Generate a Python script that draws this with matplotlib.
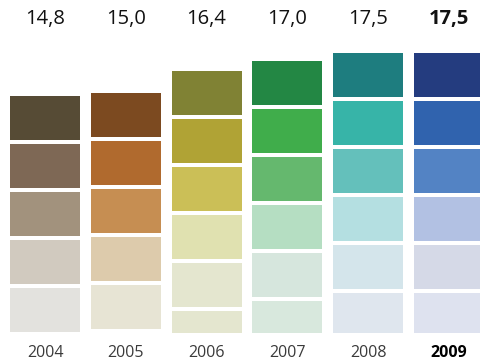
import matplotlib
matplotlib.use("Agg")
import matplotlib.pyplot as plt

years = ["2004", "2005", "2006", "2007", "2008", "2009"]
values = [14.8, 15.0, 16.4, 17.0, 17.5, 17.5]
value_labels = ["14,8", "15,0", "16,4", "17,0", "17,5", "17,5"]
seg_unit = 3.0      # each block represents 3 units (incl. gap)
seg_fill = 2.75     # coloured part of a block

palettes = [
    ["#564B35", "#7E6855", "#A2927D", "#D1CABF", "#E3E2DE", "#E3E2DE"],
    ["#7C4A20", "#B06A2E", "#C68E52", "#DDCBAC", "#E7E4D4", "#EFEBE2"],
    ["#808234", "#B0A335", "#CBBF57", "#E0E1B0", "#E4E6CF", "#E4E6CF"],
    ["#238744", "#40AD4B", "#65B86E", "#B5DEC2", "#D6E6DD", "#D8E8DD"],
    ["#1E7D7F", "#37B4A8", "#64C0BB", "#B4DFE1", "#D4E5EB", "#DFE6EE"],
    ["#243C7F", "#3063AE", "#5383C4", "#B2C1E3", "#D5D9E7", "#DEE2EF"],
]

fig = plt.figure(figsize=(4.8, 3.62), dpi=100)
ax = fig.add_axes([0, 0, 1, 1])
ax.set_xlim(-0.557, 5.384)
ax.set_ylim(-1.8125, 20.8125)
ax.axis("off")

width = 0.866
for i, (v, cols) in enumerate(zip(values, palettes)):
    top = v
    k = 0
    while top > 0.05:
        bottom = max(0.0, top - seg_fill)
        ax.bar(i, top - bottom, bottom=bottom, width=width,
               color=cols[min(k, len(cols) - 1)], linewidth=0)
        top -= seg_unit
        k += 1
    bold = (i == len(values) - 1)
    ax.text(i, 19.6, value_labels[i], ha="center", va="center",
            fontsize=14.5, family="Open Sans",
            fontweight="bold" if bold else "normal", color="#111111")
    ax.text(i, -1.25, years[i], ha="center", va="center",
            fontsize=11.5, family="Open Sans",
            fontweight="bold" if bold else "normal",
            color="#000000" if bold else "#3a3a3a")

fig.savefig("out.png", dpi=100)
